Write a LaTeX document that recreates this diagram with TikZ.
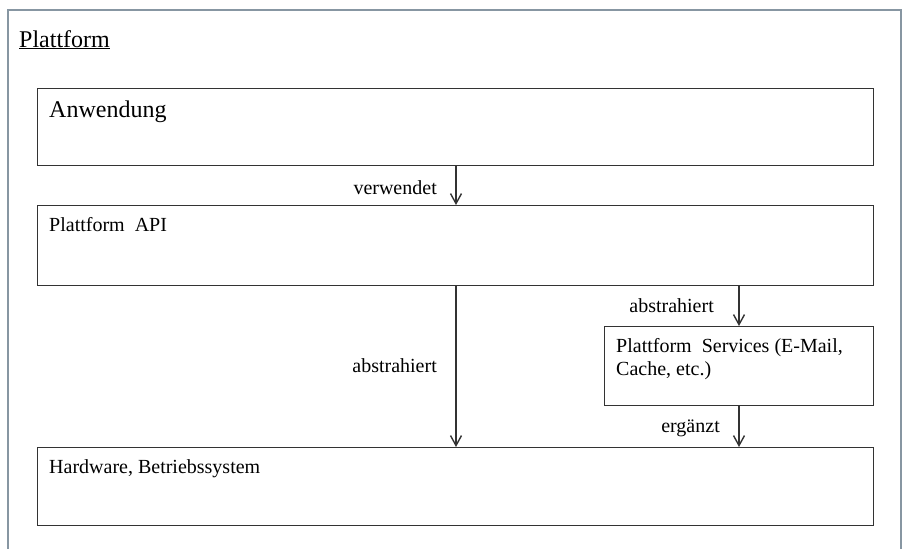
\documentclass[tikz,border=0pt]{standalone}
\usepackage{fontspec}
\setmainfont{Liberation Serif}
\usetikzlibrary{arrows.meta,calc}
\definecolor{framecol}{HTML}{8796A2}
\definecolor{boxcol}{HTML}{333333}
\tikzset{
  box/.style={draw=boxcol, line width=1.4pt, rectangle, inner sep=0pt, anchor=north west},
  boxtext/.style={inner sep=0pt, anchor=base west, font=\fontsize{20}{23}\selectfont},
  bigtext/.style={inner sep=0pt, anchor=base west, font=\fontsize{24}{28}\selectfont},
  lbltext/.style={inner sep=0pt, anchor=base east, font=\fontsize{20}{23}\selectfont},
  conn/.style={draw=boxcol, line width=1.4pt, -{Straight Barb[length=10pt,width=11pt,line width=1.4pt]}},
}
\begin{document}
\begin{tikzpicture}[x=1pt,y=-1pt]
\useasboundingbox (0,0) rectangle (906,549);
% outer frame (open at bottom)
\draw[framecol, line width=2.5pt] (8,549) -- (8,10) -- (901,10) -- (901,549);
\node[bigtext] (title) at (19,47) {\underline{Plattform}};
% boxes
\node[box, minimum width=836pt, minimum height=77pt] (anw) at (37,88) {};
\node[box, minimum width=836pt, minimum height=80pt] (api) at (37,205) {};
\node[box, minimum width=269pt, minimum height=79pt] (srv) at (604,326) {};
\node[box, minimum width=836pt, minimum height=78pt] (hw) at (37,447) {};
% box texts
\node[bigtext] (anwt) at ($(anw.north west)+(12,29)$) {Anwendung};
\node[boxtext] (apit) at ($(api.north west)+(12,26)$) {Plattform\ \ API};
\node[boxtext] (srvt1) at ($(srv.north west)+(12,26)$) {Plattform\ \ Services\ (E-Mail,};
\node[boxtext] (srvt2) at ($(srv.north west)+(12,49)$) {Cache, etc.)};
\node[boxtext] (hwt) at ($(hw.north west)+(12,26)$) {Hardware, Betriebssystem};
% connectors
\coordinate (a1) at (456,164);
\draw[conn] (anw.south -| a1) -- (api.north -| a1);
\coordinate (b1) at (456,284);
\draw[conn] (api.south -| b1) -- (hw.north -| b1);
\coordinate (c1) at (739,284);
\draw[conn] (api.south -| c1) -- (srv.north -| c1);
\draw[conn] (srv.south -| c1) -- (hw.north -| c1);
% labels
\node[lbltext] (l1) at (437,194) {verwendet};
\node[lbltext] (l2) at (437,372) {abstrahiert};
\node[lbltext] (l3) at (714,312) {abstrahiert};
\node[lbltext] (l4) at (720,432) {ergänzt};
\end{tikzpicture}
\end{document}
